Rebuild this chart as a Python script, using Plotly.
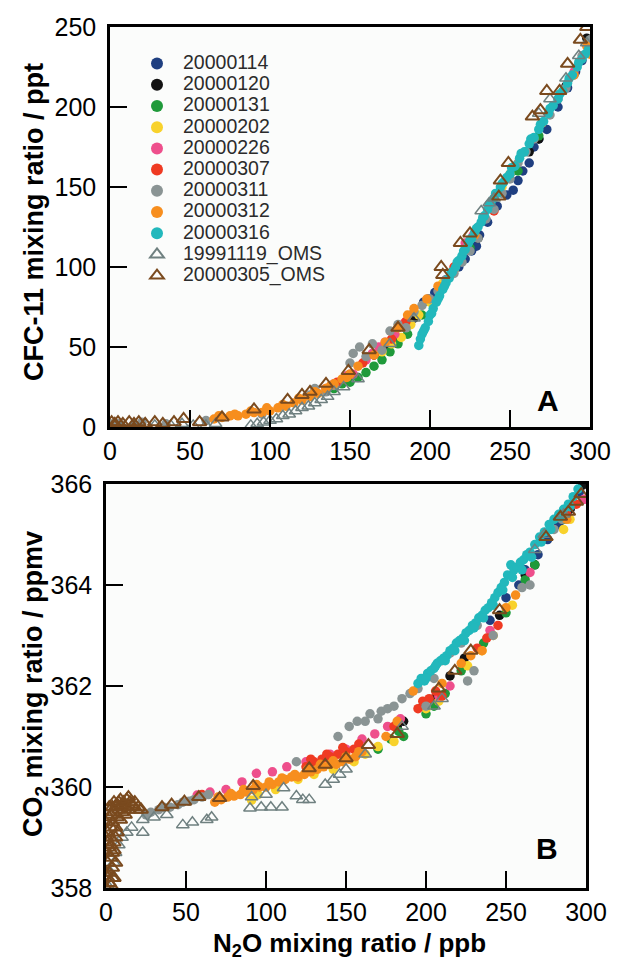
import plotly.graph_objects as go

# ---------------- data ----------------
series_names = ["20000114", "20000120", "20000131", "20000202", "20000226", "20000307",
                "20000311", "20000312", "20000316", "19991119_OMS", "20000305_OMS"]

# Panel A: N2O (ppb) vs CFC-11 (ppt)
a_20000114 = [(196,78),(199,80),(203,84),(210,92),(214,97),(218,100),(222,105),(226,110),(229,113),
              (231,120),(236,128),(242,138),(248,145),(252,148),(255,154),(258,160),(262,165),(265,175),
              (268,180),(273,186),(280,200),(286,212),(291,222),(295,229)]
a_20000120 = [(165,45),(172,50),(178,56),(185,62),(190,68),(230,118),(262,172),(268,180),(285,213),(298,243)]
a_20000131 = [(140,24),(145,27),(150,28),(155,31),(160,34),(165,38),(170,42),(175,47),(180,52),(186,58),
              (195,70),(225,112),(255,160),(268,182)]
a_20000202 = [(170,47),(176,52),(182,56),(188,64),(193,70),(200,78),(208,90),(215,98),(245,150)]
a_20000226 = [(140,27),(148,32),(152,33),(160,42),(164,46),(168,50),(172,53),(178,58),(184,65),(222,115),
              (227,120),(270,190),(290,222)]
a_20000307 = [(135,24),(142,28),(150,33),(158,40),(165,45),(176,55),(185,66),(215,100),(240,135)]
a_20000311 = [(0,2),(5,2),(20,3),(35,2),(60,4),(95,8),(120,17),(125,20),(128,24),(135,22),(140,26),(150,40),
              (152,46),(156,50),(160,44),(164,52),(170,48),(175,60),(180,64),(185,62),(190,72),(195,76),
              (200,80),(205,85),(210,92),(215,96),(220,103),(225,110),(230,118),(235,130),(240,136),
              (245,146),(250,155),(255,165),(260,172),(265,180),(270,190),(275,195),(280,205),(285,212),
              (290,220),(295,232),(300,242)]
a_20000312 = [(65,5),(70,6),(75,7),(80,7),(85,8),(90,9),(95,9),(100,10),(105,12),(110,13),(115,15),(120,17),
              (125,19),(130,21),(135,24),(140,27),(145,30),(150,33),(155,38),(165,45),(172,53),(180,62),
              (186,70),(190,74),(198,80),(205,88),(228,120),(250,158),(270,190),(290,220),(298,238),(300,233),
              (68,7),(78,8),(88,10),(98,12),(108,14),(118,18),(128,22),(138,26),(148,31)]
a_20000316 = [(193,51),(194,55),(195,58),(197,62),(199,66),(200,70),(202,74),(204,78),(206,82),(208,86),
              (210,90),(212,93),(214,97),(216,100),(218,104),(220,107),(222,111),(224,115),(226,118),
              (228,122),(230,125),(232,128),(234,132),(236,136),(238,140),(240,143),(242,146),(244,150),
              (246,153),(248,156),(250,158),(253,163),(256,168),(259,172),(262,177),(265,181),(268,186),
              (271,191),(274,196),(277,201),(280,205),(283,210),(286,215),(289,220),(292,225),(295,230),
              (297,233),(299,236),
              (196,60),(201,71),(205,80),(209,88),(213,96),(217,103),(221,110),(225,117),(229,124),
              (233,131),(237,139),(241,146),(245,152),(251,162),(257,171),(263,180),(269,189),(275,199),
              (281,208),(287,218),(293,228)]
a_19991119 = [(3,1),(8,0),(15,1),(22,2),(28,1),(38,1),(45,2),(52,1),(60,1),(66,2),(88,1),(92,2),(96,3),
              (100,4),(104,5),(108,7),(112,8),(116,10),(120,12),(124,13),(128,15),(132,17),(136,19),
              (140,22),(146,25),(155,30),(175,52),(190,68),(232,135),(237,140),(240,143),(268,196),
              (275,205),(285,218),(293,232),(298,240)]
a_20000305 = [(1,3),(3,2),(5,3),(8,2),(12,3),(15,2),(18,3),(22,2),(28,3),(33,2),(40,3),(46,5),(56,3),(70,6),
              (90,11),(111,17),(120,20),(125,22),(135,27),(149,35),(162,48),(180,62),(207,100),(208,95),
              (219,115),(225,121),(243,144),(244,154),(249,165),(264,194),(269,198),(273,210),(281,210),
              (286,227),(294,242),(298,250)]

# Panel B: N2O (ppb) vs CO2 (ppmv)
b_20000114 = [(240,363.3),(250,363.75),(258,364.0),(262,364.3),(270,364.6),(276,364.9),(283,365.2),
              (290,365.5),(296,365.85)]
b_20000120 = [(182,361.2),(186,361.3),(198,361.6),(205,361.75),(215,362.2),(224,362.55),(246,363.4),
              (262,364.2),(268,364.4),(290,365.5),(298,365.98)]
b_20000131 = [(170,360.75),(178,360.95),(183,361.1),(186,361.0),(200,361.45),(205,361.6),(212,361.85),
              (222,362.3),(236,362.85),(250,363.45),(262,364.1),(268,364.4),(286,365.3),(292,365.6)]
b_20000202 = [(91,359.74),(95,359.85),(106,359.95),(120,360.15),(130,360.25),(142,360.35),(155,360.5),
              (162,360.65),(170,360.8),(180,360.9),(200,361.55),(208,361.7),(226,362.4),(235,362.7),
              (242,363.0),(254,363.6),(286,365.1),(290,365.3)]
b_20000226 = [(57,359.84),(65,359.9),(75,359.95),(85,360.1),(94,360.27),(104,360.3),(113,360.4),(125,360.5),
              (140,360.65),(150,360.75),(160,360.95),(168,361.05),(176,361.2),(184,361.35),(208,361.8),
              (215,362.0),(240,363.1),(265,364.25),(292,365.6),(299,365.7)]
b_20000307 = [(60,359.85),(125,360.4),(130,360.5),(135,360.55),(140,360.6),(145,360.65),(150,360.7),
              (155,360.75),(180,361.2),(195,361.55),(198,361.7),(202,361.75),(206,361.9),(210,361.8),
              (232,362.75),(238,362.95),(245,363.2),(288,365.4),(294,365.6),
              (128,360.55),(138,360.65),(148,360.78),(158,360.85)]
b_20000311 = [(25,359.45),(28,359.5),(33,359.55),(36,359.6),(40,359.6),(45,359.65),(48,359.7),(52,359.72),
              (55,359.75),(60,359.8),(64,359.85),(119,360.5),(145,361.0),(152,361.2),(157,361.3),
              (162,361.3),(165,361.45),(170,361.35),(172,361.5),(176,361.55),(180,361.6),(185,361.75),
              (190,361.85),(195,361.95),(200,361.6),(205,362.15),(210,362.5),(215,362.65),(222,362.85),
              (226,362.1),(230,362.3),(232,363.2),(242,363.0),(260,363.95),(265,364.0),(280,365.1),(285,365.3)]
b_20000312 = [(68,359.7),(72,359.75),(76,359.8),(80,359.82),(84,359.85),(88,359.9),(92,359.95),(96,360.0),
              (100,360.0),(104,360.05),(108,360.1),(112,360.15),(116,360.2),(120,360.2),(124,360.25),
              (128,360.3),(132,360.35),(136,360.4),(140,360.45),(144,360.45),(148,360.5),(152,360.55),
              (156,360.6),(160,360.7),(175,361.0),(182,361.3),(192,361.9),(210,362.05),(222,362.45),
              (228,362.6),(235,362.7),(250,363.55),(256,363.8),(288,365.3),
              (70,359.8),(78,359.87),(86,359.95),(94,360.05),(102,360.1),(110,360.18),(118,360.25),
              (126,360.35),(134,360.45),(142,360.52),(150,360.6),(158,360.7)]
b_20000316 = [(195,362.05),(197,362.15),(199,362.1),(201,362.25),(203,362.3),(205,362.35),(207,362.45),
              (209,362.5),(211,362.55),(213,362.6),(215,362.7),(217,362.75),(219,362.85),(221,362.9),
              (223,362.95),(225,363.05),(227,363.1),(229,363.2),(231,363.25),(233,363.35),(235,363.4),
              (237,363.5),(239,363.55),(241,363.65),(243,363.75),(245,363.85),(247,363.95),(249,364.05),
              (251,364.2),(253,364.4),(255,364.3),(257,364.35),(259,364.45),(261,364.5),(263,364.6),
              (265,364.65),(268,364.8),(271,364.95),(274,365.05),(277,365.2),(280,365.3),(283,365.4),
              (286,365.5),(289,365.6),(292,365.75),(295,365.9),
              (200,362.15),(206,362.4),(212,362.5),(218,362.7),(224,362.9),(230,363.15),(236,363.35),
              (242,363.6),(248,363.9),(254,364.15),(260,364.3),(266,364.55),(272,364.85),(278,365.1),
              (284,365.35),(290,365.55)]
b_19991119 = [(1,358.05),(3,358.3),(5,358.5),(6,358.7),(8,358.85),(10,359.0),(13,359.1),(16,359.2),
              (23,359.1),(23,359.35),(30,359.4),(38,359.45),(48,359.25),(54,359.3),(63,359.35),(66,359.4),
              (90,359.58),(91,359.8),(97,359.6),(103,359.6),(110,359.6),(100,359.85),(111,359.98),
              (119,359.82),(123,359.75),(127,359.75),(137,360.05),(142,360.15),(146,360.25),(150,360.35),
              (162,360.65),(185,361.2),(205,361.6),(210,361.75),(268,364.7),(274,365.0),(286,365.4)]
b_20000305 = [(0,358.0),(1,358.2),(1,358.5),(2,358.3),(2,358.8),(3,359.0),(3,358.6),(4,359.3),(4,358.4),
              (5,359.5),(5,358.9),(6,359.6),(6,359.2),(7,359.4),(8,359.55),(8,359.7),(10,359.5),(10,359.65),
              (12,359.6),(13,359.75),(14,359.55),(15,359.7),(17,359.62),(18,359.7),(20,359.6),(22,359.55),
              (3,358.05),(5,358.2),(1,359.1),(2,359.4),(4,358.7),(6,359.0),(3,359.2),(9,359.35),
              (0,358.3),(0,358.7),(0,359.0),(0,359.3),(1,358.9),(2,359.6),(3,359.45),(4,359.6),(5,359.7),
              (7,359.65),(9,359.75),(11,359.7),(12,359.45),(14,359.8),(16,359.65),(19,359.55),(2,358.1),
              (4,358.2),(6,358.5),(5,358.75),(7,359.1),(3,358.85),
              (35,359.6),(41,359.65),(49,359.71),(58,359.8),(71,359.78),(92,360.02),(127,360.37),
              (137,360.44),(150,360.57),(164,360.83),(182,361.05),(208,361.95),(218,362.3),(228,362.7),
              (246,363.5),(275,364.95),(284,365.35),(289,365.45),(294,365.65),(297,365.8)]

x_ticks = [0, 50, 100, 150, 200, 250, 300]
a_y_ticks = [0, 50, 100, 150, 200, 250]
b_y_ticks = [358, 360, 362, 364, 366]

panel_a = [a_20000114, a_20000120, a_20000131, a_20000202, a_20000226, a_20000307,
           a_20000311, a_20000312, a_20000316, a_19991119, a_20000305]
panel_b = [b_20000114, b_20000120, b_20000131, b_20000202, b_20000226, b_20000307,
           b_20000311, b_20000312, b_20000316, b_19991119, b_20000305]

# ---------------- styles ----------------
colors = ["#1f3f80", "#121212", "#1f9a3a", "#f8d22c", "#ee4f8c", "#ef3a22",
          "#8a9494", "#f78e1e", "#22b8bc", "#6f8080", "#7a4a1e"]

def marker_for(i):
    if i == 9:
        return dict(symbol="triangle-up-open", size=11, color=colors[i], line=dict(width=1.5, color=colors[i]))
    if i == 10:
        return dict(symbol="triangle-up-open", size=12, color=colors[i], line=dict(width=2, color=colors[i]))
    return dict(symbol="circle", size=9.5, color=colors[i], line=dict(width=0))

fig = go.Figure()
for i, name in enumerate(series_names):
    pts = panel_a[i]
    fig.add_trace(go.Scatter(
        x=[p[0] for p in pts], y=[p[1] for p in pts], mode="markers",
        name='<span style="font-size:19.5px">' + name + '</span>',
        marker=marker_for(i), xaxis="x", yaxis="y", showlegend=True, cliponaxis=True))
for i, name in enumerate(series_names):
    pts = panel_b[i]
    fig.add_trace(go.Scatter(
        x=[p[0] for p in pts], y=[p[1] for p in pts], mode="markers", name=name,
        marker=marker_for(i), xaxis="x2", yaxis="y2", showlegend=False, cliponaxis=True))

FONT = "Liberation Sans, Arial, Helvetica, sans-serif"
W, H = 622, 963
OFF = 8  # page body margin offset of the plot div

def px_x(p):
    return (p - OFF) / W

def px_y(p):
    return 1 - (p - OFF) / H

axis_common = dict(showgrid=False, zeroline=False, showline=True, mirror=True, linecolor="black",
                   linewidth=2.5, ticks="inside", ticklen=17, tickwidth=2, tickcolor="black",
                   automargin=False, tickfont=dict(family=FONT, size=25, color="black"))

def note(text, x, y, size, angle=0):
    return dict(text=text, x=px_x(x), y=px_y(y), xref="paper", yref="paper", xanchor="center",
                yanchor="middle", textangle=angle, showarrow=False,
                font=dict(family=FONT, size=size, color="black"))

fig.update_layout(
    width=W, height=H, autosize=False,
    margin=dict(l=0, r=0, t=0, b=0, pad=0, autoexpand=False),
    paper_bgcolor="white", plot_bgcolor="#fbfcfb",
    showlegend=True,
    legend=dict(x=px_x(131), y=px_y(48), xanchor="left", yanchor="top",
                bgcolor="rgba(0,0,0,0)", borderwidth=0, itemwidth=42, itemsizing="constant",
                font=dict(family=FONT, size=14, color="#2b2b2b"), tracegroupgap=0),
    xaxis=dict(domain=[px_x(110), px_x(590)], range=[0, 300], anchor="y",
               tickvals=x_ticks, ticklabelstandoff=0, **axis_common),
    yaxis=dict(domain=[px_y(427), px_y(27)], range=[0, 250], anchor="x",
               tickvals=a_y_ticks, ticklabelstandoff=6, **axis_common),
    xaxis2=dict(domain=[px_x(106), px_x(586)], range=[0, 300], anchor="y2",
                tickvals=x_ticks, ticklabelstandoff=0, **axis_common),
    yaxis2=dict(domain=[px_y(888), px_y(484)], range=[358, 366], anchor="x2",
                tickvals=b_y_ticks, ticklabelstandoff=6, **axis_common),
    annotations=[
        note("<b>A</b>", 548, 400, 30),
        note("<b>B</b>", 547, 848, 30),
        note("<b>CFC-11 mixing ratio / ppt</b>", 34, 222, 27, -90),
        note("<b>CO<sub>2</sub> mixing ratio / ppmv</b>", 35, 684, 27, -90),
        note("<b>N<sub>2</sub>O mixing ratio / ppb</b>", 350, 944, 26),
    ],
)

fig.write_html("out.html")
